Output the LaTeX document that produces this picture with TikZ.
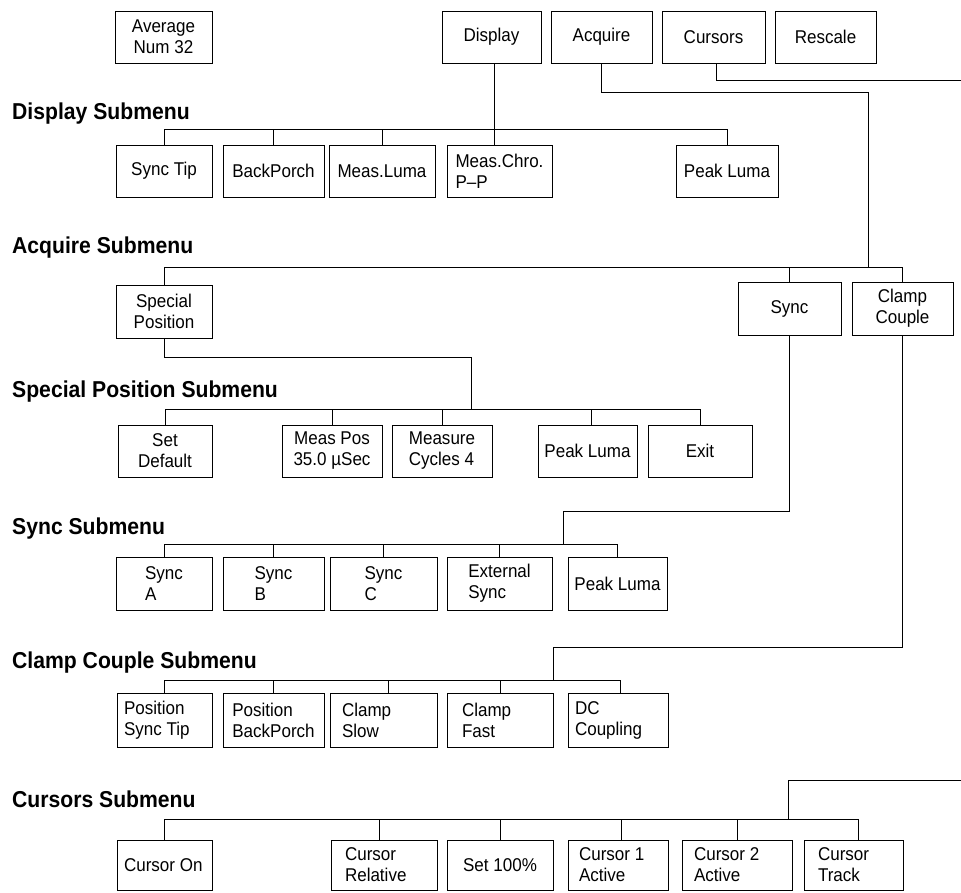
\documentclass[tikz,border=0pt]{standalone}
\usepackage{fontspec}
\setmainfont[FakeStretch=0.92]{Liberation Sans}
\tikzset{
  mb/.style={draw, line width=1pt, inner sep=0pt, outer sep=0pt,
    font=\fontsize{18.5}{21}\selectfont},
  hd/.style={anchor=base west, inner sep=0pt,
    font=\fontsize{23}{26}\selectfont\bfseries},
  cn/.style={line width=1pt},
}
% centred box: [align]{x1}{y1}{x2}{y2}{name}{text}
\newcommand\mbx[7][center]{%
  \pgfmathsetmacro\mbW{#4-#2}\pgfmathsetmacro\mbH{#5-#3}%
  \pgfmathsetmacro\mbX{(#2+#4)/2}\pgfmathsetmacro\mbY{(#3+#5)/2}%
  \node[mb,align=#1,minimum width=\mbW pt,minimum height=\mbH pt] (#6) at (\mbX,\mbY) {#7};}
% left-flush box with padding: [pad]{x1}{y1}{x2}{y2}{name}{text}
\newcommand\mbxl[7][10]{%
  \pgfmathsetmacro\mbW{#4-#2}\pgfmathsetmacro\mbH{#5-#3}%
  \pgfmathsetmacro\mbT{#4-#2-2*#1}%
  \pgfmathsetmacro\mbX{(#2+#4)/2}\pgfmathsetmacro\mbY{(#3+#5)/2}%
  \node[mb,align=flush left,text width=\mbT pt,minimum width=\mbW pt,minimum height=\mbH pt] (#6) at (\mbX,\mbY) {#7};}
\begin{document}
\begin{tikzpicture}[x=1pt,y=-1pt]
\fill[white] (0,0) rectangle (961,892);
\useasboundingbox (0,0) rectangle (961,892);

% top row
\mbx{115}{11}{212}{63}{avg}{Average\\Num 32}
\mbx{442}{11}{541}{63}{disp}{Display}
\mbx{551}{11}{652}{63}{acq}{Acquire}
\mbx{662}{11}{765}{63}{curs}{Cursors}
\mbx{775}{11}{876}{63}{resc}{Rescale}

% Display submenu
\node[hd] (h1) at (12,119) {Display Submenu};
\mbx{116}{145}{212}{197}{dst}{Sync Tip}
\mbx{223}{145}{324}{197}{dbp}{BackPorch}
\mbx{329}{145}{435}{197}{dml}{Meas.Luma}
\mbx[left]{447}{145}{552}{197}{dmc}{Meas.Chro.\\P--P}
\mbx{676}{145}{778}{197}{dpl}{Peak Luma}

% Acquire submenu
\node[hd] (h2) at (12,253) {Acquire Submenu};
\mbx{116}{285}{212}{338}{sp}{Special\\Position}
\mbx{738}{282}{841}{335}{sync}{Sync}
\mbx{852}{282}{953}{335}{cc}{Clamp\\Couple}

% Special Position submenu
\node[hd] (h3) at (12,397) {Special Position Submenu};
\mbx{118}{425}{212}{477}{setd}{Set\\Default}
\mbx{282}{425}{382}{477}{mpos}{Meas Pos\\35.0 µSec}
\mbx[left]{392}{425}{492}{477}{mcyc}{Measure\\Cycles 4}
\mbx{538}{425}{637}{477}{spl}{Peak Luma}
\mbx{648}{425}{752}{477}{exit}{Exit}

% Sync submenu
\node[hd] (h4) at (12,534) {Sync Submenu};
\mbx[left]{116}{557}{212}{610}{sa}{Sync\\A}
\mbx[left]{223}{557}{324}{610}{sb}{Sync\\B}
\mbx[left]{330}{557}{437}{610}{sc}{Sync\\C}
\mbx[left]{447}{557}{552}{610}{ext}{External\\Sync}
\mbx{568}{557}{667}{610}{spk}{Peak Luma}

% Clamp Couple submenu
\node[hd] (h5) at (12,668) {Clamp Couple Submenu};
\mbxl[7]{117}{693}{212}{747}{pst}{Position\\Sync Tip}
\mbx[left]{223}{693}{324}{747}{pbp}{Position\\BackPorch}
\mbxl[12]{330}{693}{437}{747}{csl}{Clamp\\Slow}
\mbxl[15]{447}{693}{553}{747}{cfa}{Clamp\\Fast}
\mbxl[7]{568}{693}{668}{747}{dcc}{DC\\Coupling}

% Cursors submenu
\node[hd] (h6) at (12,807) {Cursors Submenu};
\mbxl[7]{117}{840}{212}{890}{con}{Cursor On}
\mbxl[14]{331}{840}{437}{890}{crel}{Cursor\\Relative}
\mbx{447}{840}{553}{890}{s100}{Set 100\%}
\mbxl[11]{568}{840}{668}{890}{c1}{Cursor 1\\Active}
\mbxl[12]{682}{840}{792}{890}{c2}{Cursor 2\\Active}
\mbxl[14]{804}{840}{903}{890}{ctr}{Cursor\\Track}

% coordinates for bends / free ends
\coordinate (acqbar) at (868,267);
\coordinate (spbar) at (471,409);
\coordinate (syncbar) at (563,544);
\coordinate (ccbar) at (553,680);
\coordinate (rtop) at (961,80);
\coordinate (rbot) at (961,780);
\coordinate (curbar) at (788,819);

% Display connectors
\draw[cn] ([xshift=2.5pt]disp.south) -- ([xshift=-5.5pt]dmc.north);
\draw[cn] (dst.north) -- ++(0,-16) -| (dpl.north);
\foreach \n in {dbp,dml} \draw[cn] (\n.north) -- ++(0,-16);

% Acquire connectors
\draw[cn] (acq.south) -- ++(0,29) -| (acqbar);
\draw[cn] (sp.north) -- ++(0,-18) -| (cc.north);
\draw[cn] (sync.north) -- ++(0,-15);

% Special Position connectors
\draw[cn] (sp.south) -- ++(0,19) -| (spbar);
\draw[cn] (setd.north) -- ++(0,-16) -| (exit.north);
\foreach \n in {mpos,mcyc} \draw[cn] (\n.north) -- ++(0,-16);
\draw[cn] ([xshift=3.5pt]spl.north) -- ++(0,-16);

% Sync connectors
\draw[cn] (sync.south) -- ++(0,176) -| (syncbar);
\draw[cn] (sa.north) -- ++(0,-13) -| (spk.north);
\foreach \n in {sb,sc,ext} \draw[cn] (\n.north) -- ++(0,-13);

% Clamp Couple connectors
\draw[cn] (cc.south) -- ++(0,312) -| (ccbar);
\draw[cn] (pst.north) -- ++(0,-13) -| ([xshift=2pt]dcc.north);
\draw[cn] (pbp.north) -- ++(0,-13);
\draw[cn] ([xshift=5pt]csl.north) -- ++(0,-13);
\draw[cn] (cfa.north) -- ++(0,-13);

% Cursors connectors
\draw[cn] ([xshift=2.5pt]curs.south) |- (rtop);
\draw[cn] (rbot) -| (curbar);
\draw[cn] (con.north) -- ++(0,-21) -| ([xshift=4.5pt]ctr.north);
\draw[cn] ([xshift=-5pt]crel.north) -- ++(0,-21);
\draw[cn] (s100.north) -- ++(0,-21);
\draw[cn] ([xshift=3pt]c1.north) -- ++(0,-21);
\draw[cn] (c2.north) -- ++(0,-21);
\end{tikzpicture}
\end{document}
